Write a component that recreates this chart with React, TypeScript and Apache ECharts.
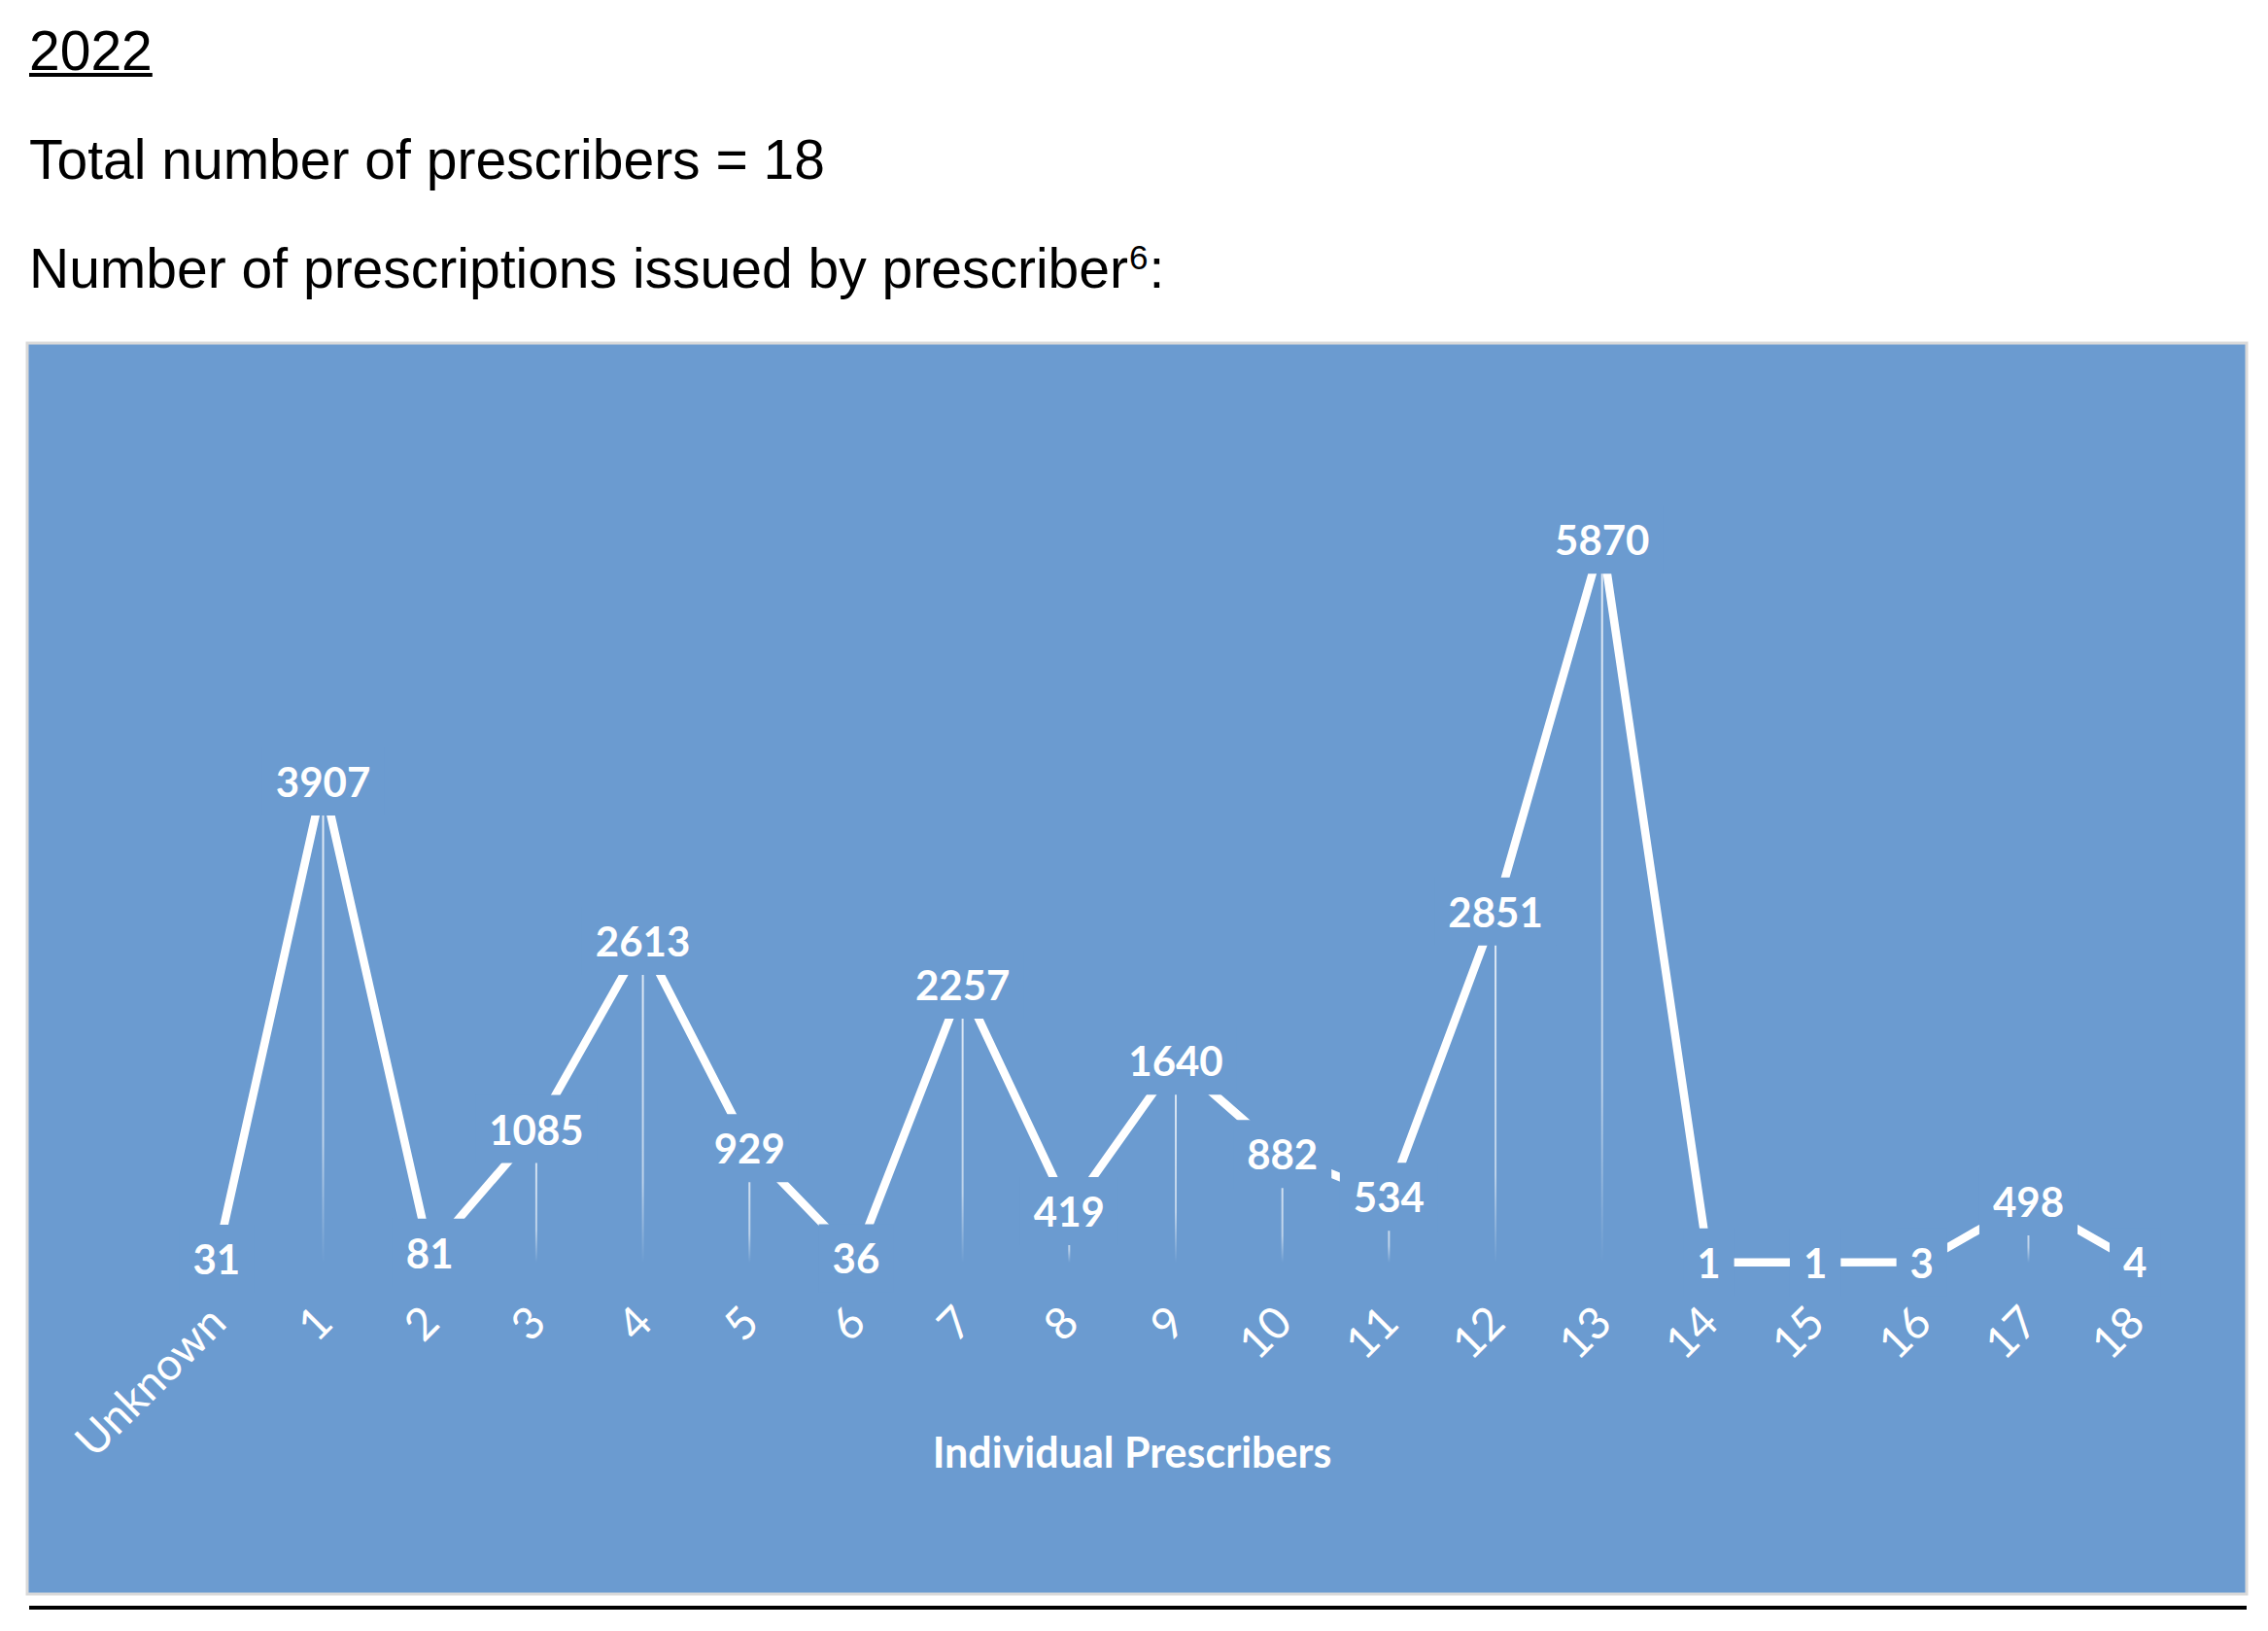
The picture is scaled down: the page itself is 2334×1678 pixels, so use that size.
import React, { useEffect, useRef } from 'react';
import * as echarts from 'echarts';

const categories = ['Unknown', '1', '2', '3', '4', '5', '6', '7', '8', '9', '10', '11', '12', '13', '14', '15', '16', '17', '18'];
const prescriptions = [31, 3907, 81, 1085, 2613, 929, 36, 2257, 419, 1640, 882, 534, 2851, 5870, 1, 1, 3, 498, 4];
const yMin = 0;
const yMax = 7000;

const headingYear = '2022';
const headingTotal = 'Total number of prescribers = 18';
const headingIntro = 'Number of prescriptions issued by prescriber';
const footnoteMark = '6';
const headingEnd = ':';
const axisTitle = 'Individual Prescribers';

const BG = '#6b9bd0';
const HEAD_FAMILY = '"Liberation Sans", Arial, sans-serif';

function measure(text: string, font: string): number {
  const c = document.createElement('canvas').getContext('2d');
  if (!c) return text.length * 28;
  c.font = font;
  return c.measureText(text).width;
}

export default function App() {
  const ref = useRef<HTMLDivElement>(null);

  useEffect(() => {
    if (!ref.current) return;
    const chart = echarts.init(ref.current, null, { renderer: 'svg' });

    const headSize = 57;
    const supSize = 35;
    const headFont = `${headSize}px ${HEAD_FAMILY}`;
    const yearW = measure(headingYear, headFont);
    const introW = measure(headingIntro, headFont);
    const supW = measure(footnoteMark, `${supSize}px ${HEAD_FAMILY}`);

    const textLeft = 30;

    chart.setOption({
      animation: false,
      backgroundColor: '#ffffff',
      grid: { left: 168, right: 82, top: 412, bottom: 379, containLabel: false },
      xAxis: {
        type: 'category',
        data: categories,
        boundaryGap: true,
        axisLine: { show: false },
        axisTick: { show: false },
        splitLine: { show: false },
        axisLabel: {
          color: '#ffffff',
          fontFamily: 'Lato',
          fontSize: 46,
          rotate: 45,
          margin: 52,
          interval: 0,
        },
      },
      yAxis: {
        type: 'value',
        min: yMin,
        max: yMax,
        show: false,
        splitLine: { show: false },
      },
      graphic: [
        {
          type: 'rect',
          z: -10,
          shape: { x: 28, y: 353, width: 2284, height: 1287 },
          style: { fill: BG, stroke: '#d9d9d9', lineWidth: 3 },
          silent: true,
        },
        {
          type: 'rect',
          shape: { x: 30, y: 1652, width: 2282, height: 4 },
          style: { fill: '#000000' },
          silent: true,
        },
        {
          type: 'text',
          x: textLeft,
          y: 52,
          style: { text: headingYear, font: headFont, fill: '#000', textVerticalAlign: 'middle', textAlign: 'left' },
        },
        {
          type: 'rect',
          shape: { x: textLeft, y: 75, width: yearW, height: 4 },
          style: { fill: '#000' },
          silent: true,
        },
        {
          type: 'text',
          x: textLeft,
          y: 164,
          style: { text: headingTotal, font: headFont, fill: '#000', textVerticalAlign: 'middle', textAlign: 'left' },
        },
        {
          type: 'text',
          x: textLeft,
          y: 276,
          style: { text: headingIntro, font: headFont, fill: '#000', textVerticalAlign: 'middle', textAlign: 'left' },
        },
        {
          type: 'text',
          x: textLeft + introW + 1,
          y: 264,
          style: { text: footnoteMark, font: `${supSize}px ${HEAD_FAMILY}`, fill: '#000', textVerticalAlign: 'middle', textAlign: 'left' },
        },
        {
          type: 'text',
          x: textLeft + introW + supW + 2,
          y: 276,
          style: { text: headingEnd, font: headFont, fill: '#000', textVerticalAlign: 'middle', textAlign: 'left' },
        },
        {
          type: 'text',
          x: 1165,
          y: 1493,
          style: {
            text: axisTitle,
            font: 'bold 43px Lato',
            fill: '#ffffff',
            textVerticalAlign: 'middle',
            textAlign: 'center',
          },
        },
      ],
      series: [
        {
          type: 'bar',
          name: 'drop',
          data: prescriptions,
          barWidth: 2,
          z: 1,
          silent: true,
          label: { show: false },
          itemStyle: {
            color: {
              type: 'linear',
              x: 0,
              y: 0,
              x2: 0,
              y2: 1,
              colorStops: [
                { offset: 0, color: 'rgba(255,255,255,0.8)' },
                { offset: 0.75, color: 'rgba(255,255,255,0.55)' },
                { offset: 1, color: 'rgba(255,255,255,0)' },
              ],
            },
          },
        },
        {
          type: 'line',
          name: 'Prescriptions',
          data: prescriptions,
          z: 3,
          symbol: 'circle',
          symbolSize: 2,
          itemStyle: { color: '#ffffff' },
          lineStyle: { color: '#ffffff', width: 8.5 },
          label: {
            show: true,
            position: 'inside',
            color: '#ffffff',
            fontFamily: 'Lato',
            fontWeight: 'bold',
            fontSize: 42,
            backgroundColor: BG,
            padding: [14, 14],
          },
        },
      ],
    });

    return () => chart.dispose();
  }, []);

  return (
    <div
      ref={ref}
      style={{ position: 'fixed', left: 0, top: 0, width: 2334, height: 1678, background: '#ffffff' }}
    />
  );
}
